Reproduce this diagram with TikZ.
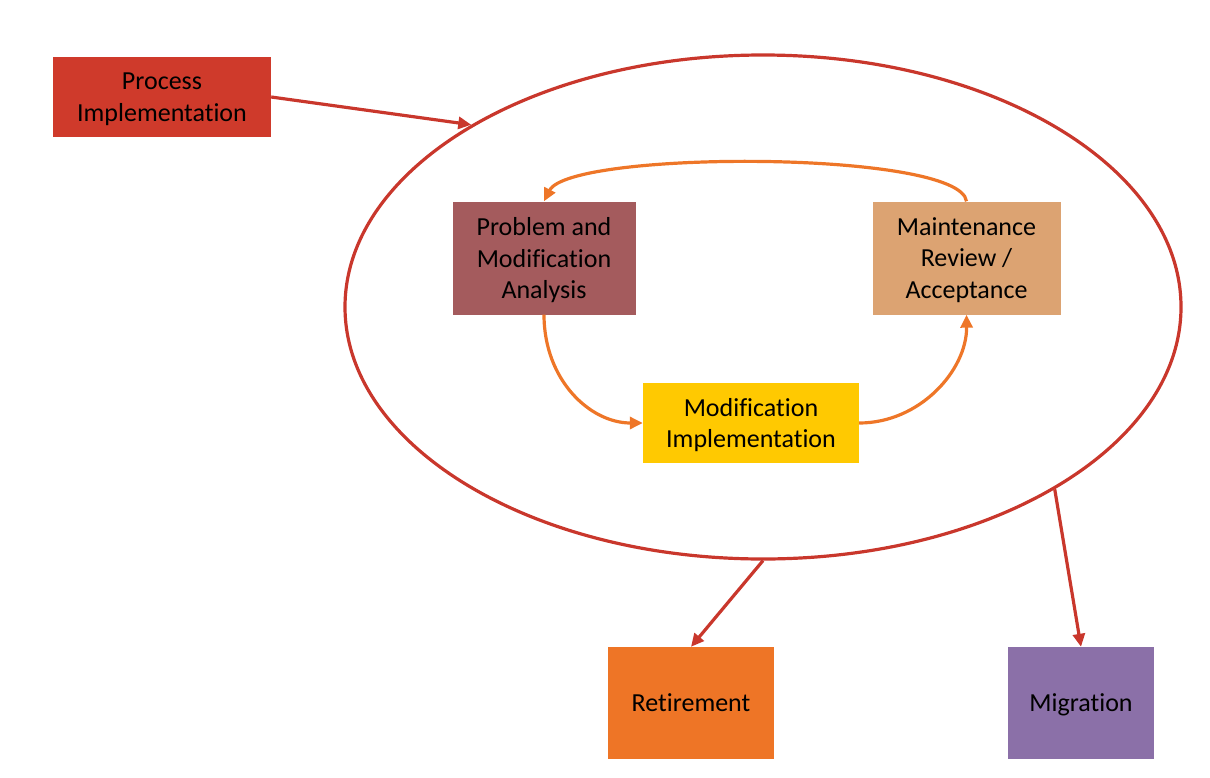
\documentclass[tikz,border=0pt]{standalone}
\usepackage{fontspec}
\setmainfont[Ligatures={NoCommon}]{Carlito}
\usetikzlibrary{shapes.geometric,arrows.meta}
\definecolor{cred}{HTML}{CF3A2B}
\definecolor{cline}{HTML}{C9372C}
\definecolor{cpma}{HTML}{A45B5D}
\definecolor{cmra}{HTML}{DCA372}
\definecolor{cyel}{HTML}{FFC901}
\definecolor{cret}{HTML}{EE7526}
\definecolor{cmig}{HTML}{8B70A8}
\definecolor{corg}{HTML}{EE7628}
\tikzset{
  box/.style={rectangle, inner sep=0pt, align=center, text depth=0pt, font=\fontsize{26}{31.5}\selectfont, text=black},
  redarrow/.style={draw=cline, line width=3.2pt, -{Triangle[length=13pt,width=12pt]}},
  orgarrow/.style={draw=corg, line width=3.2pt, -{Triangle[length=13pt,width=12pt]}},
}
\begin{document}
\begin{tikzpicture}[x=1pt,y=-1pt]
\useasboundingbox (0,0) rectangle (1210,777);
\node[ellipse, draw=cline, line width=3.2pt, minimum width=836pt, minimum height=504pt, inner sep=0pt] (cyc) at (763,307) {};
\node[box, fill=cred, minimum width=218pt, minimum height=80pt] (pi) at (162,97) {Process\\Implementation};
\node[box, fill=cpma, minimum width=183pt, minimum height=113pt] (pma) at (544,258) {Problem and\\Modification\\Analysis};
\node[box, fill=cmra, minimum width=188pt, minimum height=113pt] (mra) at (966.5,258) {Maintenance\\Review /\\Acceptance};
\node[box, fill=cyel, minimum width=216pt, minimum height=80pt] (mi) at (751,423) {Modification\\Implementation};
\node[box, fill=cret, minimum width=166pt, minimum height=112pt] (ret) at (691,703) {Retirement};
\node[box, fill=cmig, minimum width=146pt, minimum height=112pt] (mig) at (1081,703) {Migration};
\draw[redarrow] (pi.east) -- (cyc.148.8);
\draw[redarrow] (cyc.south) -- (ret.north);
\draw[redarrow] (cyc.328.7) -- (mig.north);
\draw[orgarrow] (mra.north) .. controls (960,150) and (570,150) .. (pma.north);
\draw[orgarrow] (pma.south) .. controls (544,380) and (590,423) .. (mi.west);
\draw[orgarrow] (mi.east) .. controls (920,423) and (967,370) .. (mra.south);
\end{tikzpicture}
\end{document}
